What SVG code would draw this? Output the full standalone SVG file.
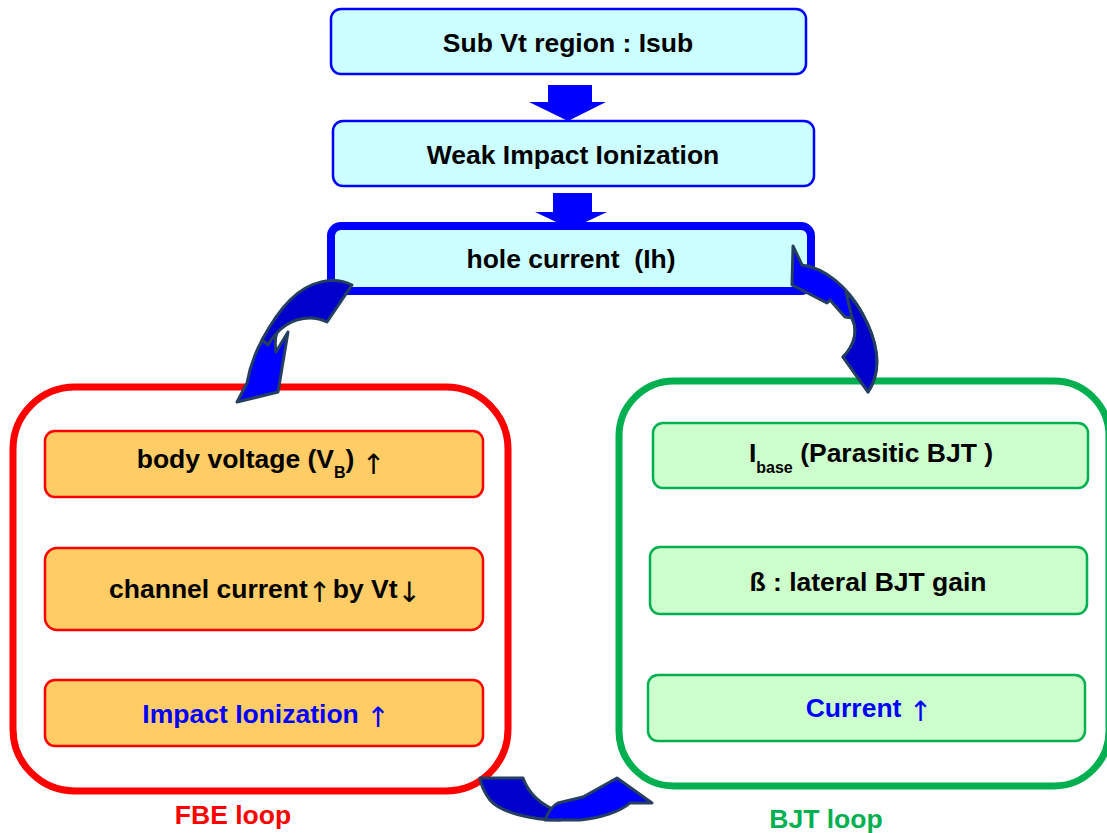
<svg xmlns="http://www.w3.org/2000/svg" width="1107" height="833" viewBox="0 0 1107 833">
<style>
text{font-family:"Liberation Sans",Arial,sans-serif;font-weight:bold;font-size:26.5px;text-anchor:middle}
.cyan{fill:#CCFFFF;stroke:#0000FF;stroke-width:2.5}
.org{fill:#FFCC66;stroke:#FF0000;stroke-width:2.5}
.grn{fill:#CCFFCC;stroke:#00B050;stroke-width:2.5}
.blk{fill:#0000FF}
.ca{stroke:#243F60;stroke-width:3;stroke-linejoin:round}
.dk{fill:#0000CC}
.lt{fill:#0000FF}
.arr{font-family:"DejaVu Sans",sans-serif;font-weight:normal;font-size:28px;letter-spacing:-6px}
</style>
<rect width="1107" height="833" fill="#FFFFFF"/>
<g id="fbe-loop"><rect x="13" y="387" width="495" height="404" rx="62" fill="none" stroke="#FF0000" stroke-width="7"/><text x="233" y="824" fill="#FF0000">FBE loop</text></g>
<g id="bjt-loop"><rect x="619" y="381" width="490" height="405" rx="55" fill="none" stroke="#00B050" stroke-width="7"/><text x="826" y="828" fill="#00B050">BJT loop</text></g>
<g id="block-arrows">
<polygon class="blk" points="548,85 592,85 592,102 606,102 568,121 529,102 548,102"/>
<polygon class="blk" points="553,193 592,193 592,212 607,212 571,229 535,212 553,212"/>
</g>
<g id="n-subvt"><rect class="cyan" x="331" y="9" width="475" height="65" rx="10"/><text x="568" y="52">Sub Vt region : Isub</text></g>
<g id="n-weak"><rect class="cyan" x="333" y="121" width="481" height="65" rx="10"/><text x="573" y="164">Weak Impact Ionization</text></g>
<g id="n-hole"><rect x="331" y="226" width="480" height="65" rx="10" fill="#CCFFFF" stroke="#0000FF" stroke-width="8"/><text x="571" y="268" xml:space="preserve">hole current  (Ih)</text></g>
<g id="n-body"><rect class="org" x="45" y="431" width="438" height="66" rx="10"/><text x="258" y="468">body voltage (V<tspan font-size="16" dy="10">B</tspan><tspan dy="-10">) </tspan><tspan class="arr" dy="6">↑</tspan></text></g>
<g id="n-channel"><rect class="org" x="45" y="548" width="438" height="82" rx="12"/><text x="262" y="598">channel current<tspan class="arr" dy="4">↑</tspan><tspan dy="-4"> by Vt</tspan><tspan class="arr" dy="4">↓</tspan></text></g>
<g id="n-impact"><rect class="org" x="45" y="680" width="438" height="66" rx="10"/><text x="263" y="723" fill="#0000FF">Impact Ionization <tspan class="arr" dy="4">↑</tspan></text></g>
<g id="n-ibase"><rect class="grn" x="653" y="423" width="435" height="65" rx="10"/><text x="871" y="462">I<tspan font-size="16" dy="11">base</tspan><tspan dy="-11"> (Parasitic BJT )</tspan></text></g>
<g id="n-beta"><rect class="grn" x="650" y="547" width="437" height="67" rx="10"/><text x="868" y="591">ß : lateral BJT gain</text></g>
<g id="n-current"><rect class="grn" x="648" y="675" width="437" height="66" rx="10"/><text x="866" y="717" fill="#0000FF">Current <tspan class="arr" dy="4">↑</tspan></text></g>
<g id="connectors">
<g id="curve-left">
<path class="ca lt" d="M282,322 C276,330 274,340 276,352 L288,332 L278,392 L237,402 L247,383 C250,365 258,345 267,333 Z"/>
<path class="ca dk" d="M352,285 C335,276 310,280 290,300 C278,312 270,325 262,340 L268,345 C278,328 292,318 310,318 C318,318 323,320 327,322 Z"/>
</g>
<g id="curve-right">
<path class="ca lt" d="M793,246 L802,265 C825,268 848,287 862,313 C876,338 884,368 868,392 L843,357 C855,345 858,330 852,318 L845,317 L830,300 L827,303 L792,285 Z"/>
<path class="ca dk" d="M846,292 C853,299 858,306 862,313 C876,338 884,368 868,392 L843,357 C855,345 858,330 852,318 Z"/>
</g>
<g id="curve-bottom">
<path class="ca dk" d="M480,778 L523,778 C528,792 540,805 560,812 L560,820 C530,820 500,812 490,800 C484,792 481,785 480,778 Z"/>
<path class="ca lt" d="M558,803 L583,797 L617,778 L652,803 L630,803 C620,812 600,818 580,820 L545,820 C548,812 552,806 558,803 Z"/>
</g>
</g>
</svg>
